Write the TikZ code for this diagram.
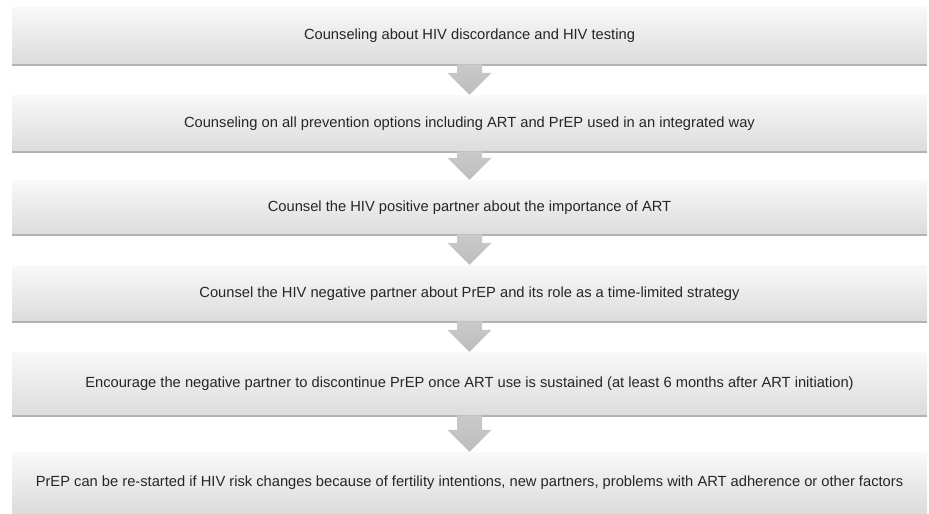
\documentclass[tikz,border=0pt]{standalone}
\usepackage{fontspec}
\setmainfont{Liberation Sans}
\usetikzlibrary{calc}

\tikzset{
  stage/.style={minimum width=915pt, inner sep=0pt, top color=gray!5, bottom color=gray!28,
    font=\fontsize{14.7}{17}\selectfont, text=black!85},
  ledge/.style={gray!60, line width=1.5pt},
  flow/.style={top color=gray!42, bottom color=gray!52},
}

\begin{document}
\begin{tikzpicture}[x=1pt,y=-1pt]
            \useasboundingbox (0,0) rectangle (929,514);

            \node [stage, minimum height=58pt] (b1) at (469.5,36)
               {Counseling about HIV discordance and HIV testing};
            \node [stage, minimum height=57pt] (b2) at (469.5,123.5)
               {Counseling on all prevention options including ART and PrEP used in an integrated way};
            \node [stage, minimum height=55pt] (b3) at (469.5,207.5)
               {Counsel the HIV positive partner about the importance of ART};
            \node [stage, minimum height=57pt] (b4) at (469.5,293.5)
               {Counsel the HIV negative partner about PrEP and its role as a time-limited strategy};
            \node [stage, minimum height=64pt] (b5) at (469.5,384)
               {Encourage the negative partner to discontinue PrEP once ART use is sustained (at least 6 months after ART initiation)};
            \node [stage, minimum height=62pt] (b6) at (469.5,483)
               {PrEP can be re-started if HIV risk changes because of fertility intentions, new partners, problems with ART adherence or other factors};

            \foreach \b in {b1,b2,b3,b4,b5}
               \draw [ledge] (\b.south west) -- (\b.south east);

            \foreach \a/\b in {b1/b2,b2/b3,b3/b4,b4/b5,b5/b6}
               \shade [flow]
                  ($(\a.south)+(-12.5,-0.8)$) -- ($(\b.north)+(-12.5,-22)$)
                  -- ($(\b.north)+(-22,-22)$) -- (\b.north)
                  -- ($(\b.north)+(22,-22)$) -- ($(\b.north)+(12.5,-22)$)
                  -- ($(\a.south)+(12.5,-0.8)$) -- cycle;
         \end{tikzpicture}
\end{document}
